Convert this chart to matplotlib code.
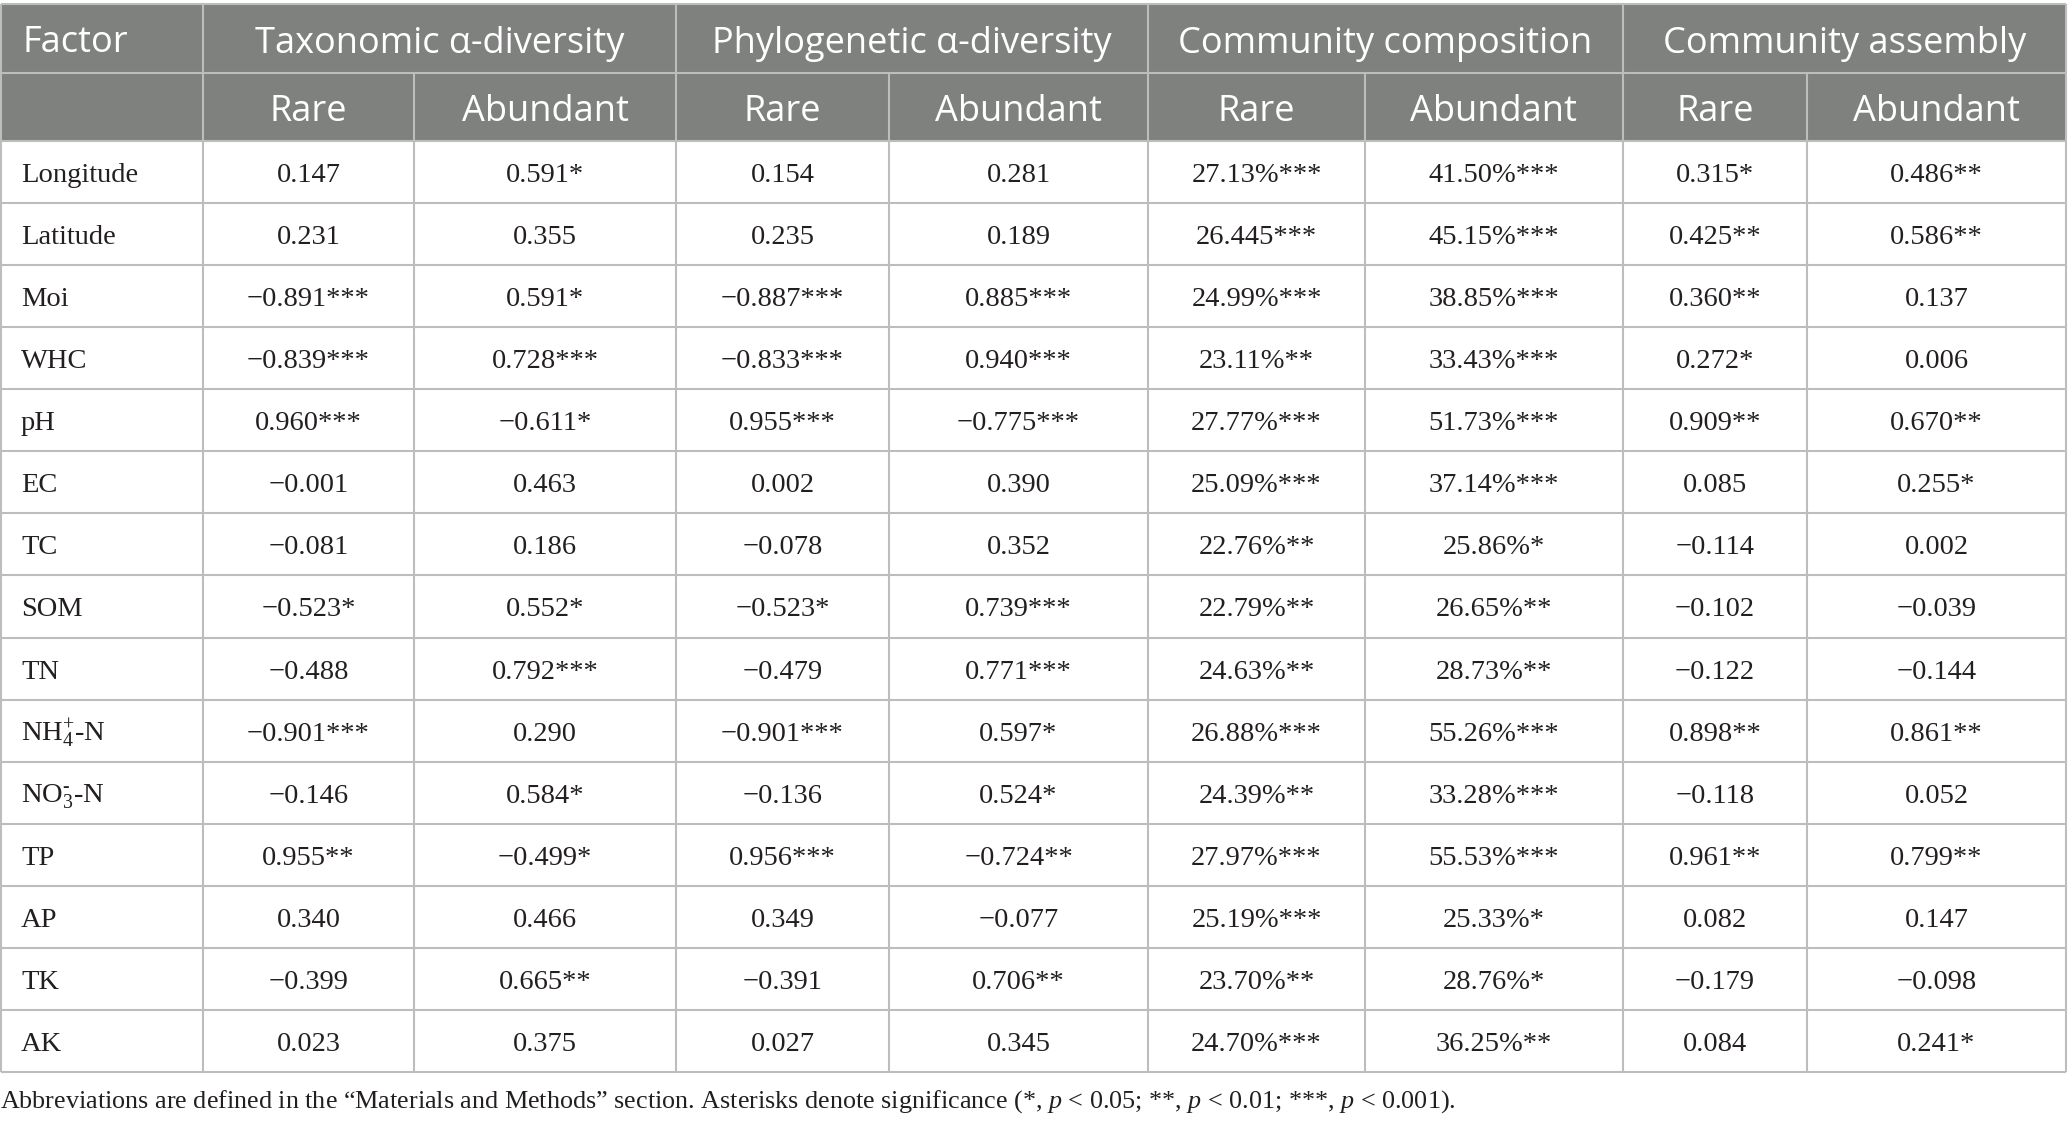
import matplotlib
matplotlib.use("Agg")
import matplotlib.pyplot as plt
from matplotlib.patches import Rectangle

plt.rcParams['mathtext.fontset'] = 'custom'
plt.rcParams['mathtext.rm'] = 'Liberation Serif'
plt.rcParams['mathtext.it'] = 'Liberation Serif:italic'
plt.rcParams['mathtext.bf'] = 'Liberation Serif:bold'

# ---------------- data ----------------
groups = ["Taxonomic α-diversity", "Phylogenetic α-diversity",
          "Community composition", "Community assembly"]
subheaders = ["Rare", "Abundant"]
factors = ["Longitude", "Latitude", "Moi", "WHC", "pH", "EC", "TC", "SOM", "TN",
           r"NH$_\mathrm{4}^\mathrm{+}$-N", r"NO$_\mathrm{3}^\mathrm{‐}$-N",
           "TP", "AP", "TK", "AK"]

tax_rare = ["0.147", "0.231", "−0.891***", "−0.839***", "0.960***", "−0.001", "−0.081",
            "−0.523*", "−0.488", "−0.901***", "−0.146", "0.955**", "0.340", "−0.399", "0.023"]
tax_abund = ["0.591*", "0.355", "0.591*", "0.728***", "−0.611*", "0.463", "0.186",
             "0.552*", "0.792***", "0.290", "0.584*", "−0.499*", "0.466", "0.665**", "0.375"]
phy_rare = ["0.154", "0.235", "−0.887***", "−0.833***", "0.955***", "0.002", "−0.078",
            "−0.523*", "−0.479", "−0.901***", "−0.136", "0.956***", "0.349", "−0.391", "0.027"]
phy_abund = ["0.281", "0.189", "0.885***", "0.940***", "−0.775***", "0.390", "0.352",
             "0.739***", "0.771***", "0.597*", "0.524*", "−0.724**", "−0.077", "0.706**", "0.345"]
comp_rare = ["27.13%***", "26.445***", "24.99%***", "23.11%**", "27.77%***", "25.09%***",
             "22.76%**", "22.79%**", "24.63%**", "26.88%***", "24.39%**", "27.97%***",
             "25.19%***", "23.70%**", "24.70%***"]
comp_abund = ["41.50%***", "45.15%***", "38.85%***", "33.43%***", "51.73%***", "37.14%***",
              "25.86%*", "26.65%**", "28.73%**", "55.26%***", "33.28%***", "55.53%***",
              "25.33%*", "28.76%*", "36.25%**"]
asm_rare = ["0.315*", "0.425**", "0.360**", "0.272*", "0.909**", "0.085", "−0.114",
            "−0.102", "−0.122", "0.898**", "−0.118", "0.961**", "0.082", "−0.179", "0.084"]
asm_abund = ["0.486**", "0.586**", "0.137", "0.006", "0.670**", "0.255*", "0.002",
             "−0.039", "−0.144", "0.861**", "0.052", "0.799**", "0.147", "−0.098", "0.241*"]

columns = [tax_rare, tax_abund, phy_rare, phy_abund,
           comp_rare, comp_abund, asm_rare, asm_abund]

footnote = (r"Abbreviations are defined in the “Materials and Methods” section. "
            r"Asterisks denote significance (*, $\mathit{p}$ < 0.05; **, $\mathit{p}$ < 0.01; "
            r"***, $\mathit{p}$ < 0.001).")

# ---------------- layout (pixels) ----------------
W, H = 2068, 1126
col_edges = [1, 203, 414, 676, 889, 1148, 1365, 1623, 1807, 2066]
top, h1, h2, bottom = 4, 73, 141, 1072
n = len(factors)
row_h = (bottom - h2) / n

header_bg = "#7f817f"
line_c = "#bdbdbd"
head_font = "Open Sans"
body_font = "Liberation Serif"
text_c = "#231f20"

fig = plt.figure(figsize=(W / 100, H / 100), dpi=100)
ax = fig.add_axes([0, 0, 1, 1])
ax.set_xlim(0, W)
ax.set_ylim(H, 0)
ax.axis("off")

ax.add_patch(Rectangle((col_edges[0], top), col_edges[-1] - col_edges[0], h2 - top,
                       facecolor=header_bg, edgecolor="none", zorder=1))

lw = 1.5
# horizontal lines
ys = [top, h1, h2] + [h2 + row_h * (i + 1) for i in range(n)]
for y in ys:
    ax.plot([col_edges[0], col_edges[-1]], [y, y], color=line_c, lw=lw, zorder=3,
            solid_capstyle="butt")
# vertical lines
for i, x in enumerate(col_edges):
    y0 = top if i % 2 == 1 or i in (0, len(col_edges) - 1) else h1
    ax.plot([x, x], [y0, bottom], color=line_c, lw=lw, zorder=3, solid_capstyle="butt")

# header row 1
ax.text(22, (top + h1) / 2 + 14, "Factor", fontfamily=head_font, fontsize=26,
        color="white", ha="left", va="baseline", zorder=4)
for g, name in enumerate(groups):
    xc = (col_edges[1 + 2 * g] + col_edges[3 + 2 * g]) / 2
    ax.text(xc, (top + h1) / 2 + 14, name, fontfamily=head_font, fontsize=26,
            color="white", ha="center", va="baseline", zorder=4)
# header row 2
for c in range(8):
    xc = (col_edges[1 + c] + col_edges[2 + c]) / 2
    ax.text(xc, (h1 + h2) / 2 + 14, subheaders[c % 2], fontfamily=head_font, fontsize=26,
            color="white", ha="center", va="baseline", zorder=4)

# body
for r in range(n):
    yc = h2 + row_h * (r + 0.5)
    ax.text(21, yc + 10, factors[r], fontfamily=body_font, fontsize=20.5,
            color=text_c, ha="left", va="baseline", zorder=4)
    for c, col in enumerate(columns):
        xc = (col_edges[1 + c] + col_edges[2 + c]) / 2
        ax.text(xc, yc + 10, col[r], fontfamily=body_font, fontsize=20.5,
                color=text_c, ha="center", va="baseline", zorder=4)

ax.text(0, 1108, footnote, fontfamily=body_font, fontsize=18.8, color=text_c,
        ha="left", va="baseline", zorder=4)

fig.savefig("out.png", dpi=100, facecolor="white")
